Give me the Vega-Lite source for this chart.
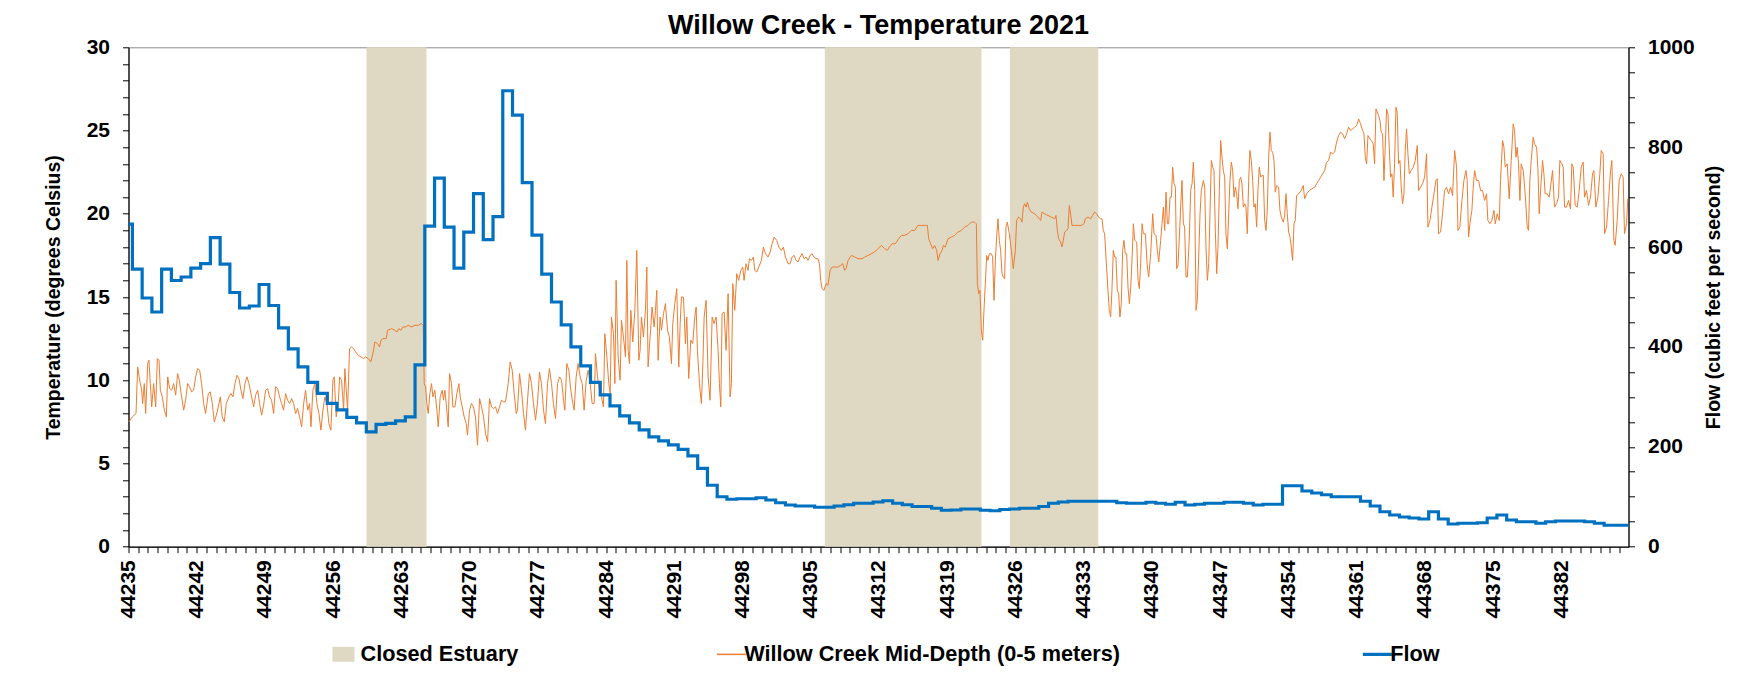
{
"$schema": "https://vega.github.io/schema/vega-lite/v6.json",
"width": 1500,
"height": 499.4,
"autosize": {"type": "none"},
"padding": {"left": 128.5, "top": 47.3, "right": 135.5, "bottom": 130.3},
"background": "white",
"title": {"text": "Willow Creek - Temperature 2021", "font": "Liberation Sans", "fontSize": 27, "fontWeight": "bold", "color": "#000000", "anchor": "middle", "frame": "group", "baseline": "alphabetic", "offset": 2, "dy": 27},
"datasets": {
"bands": [{"start": 44259.42, "end": 44265.58}, {"start": 44306.44, "end": 44322.52}, {"start": 44325.43, "end": 44334.5}],
"flow": [
{"day":44235,"flow":646},{"day":44235.4,"flow":556},{"day":44236.4,"flow":498},{"day":44237.4,"flow":470},{"day":44238.4,"flow":556},{"day":44239.4,"flow":533},{"day":44240.4,"flow":540},{"day":44241.4,"flow":558},{"day":44242.4,"flow":567},{"day":44243.4,"flow":619},{"day":44244.4,"flow":566},{"day":44245.4,"flow":509},{"day":44246.4,"flow":478},{"day":44247.4,"flow":482},{"day":44248.4,"flow":525},{"day":44249.4,"flow":483},{"day":44250.4,"flow":438},{"day":44251.4,"flow":396},{"day":44252.4,"flow":360},{"day":44253.4,"flow":329},{"day":44254.4,"flow":307},{"day":44255.4,"flow":287},{"day":44256.4,"flow":274},{"day":44257.4,"flow":259},{"day":44258.4,"flow":248},{"day":44259.4,"flow":230},{"day":44260.4,"flow":245},{"day":44261.4,"flow":247},{"day":44262.4,"flow":252},{"day":44263.4,"flow":260},{"day":44264.4,"flow":364},{"day":44265.4,"flow":642},{"day":44266.4,"flow":738},{"day":44267.4,"flow":640},{"day":44268.4,"flow":558},{"day":44269.4,"flow":630},{"day":44270.4,"flow":707},{"day":44271.4,"flow":615},{"day":44272.4,"flow":661},{"day":44273.4,"flow":913},{"day":44274.4,"flow":864},{"day":44275.4,"flow":729},{"day":44276.4,"flow":624},{"day":44277.4,"flow":546},{"day":44278.4,"flow":490},{"day":44279.4,"flow":444},{"day":44280.4,"flow":400},{"day":44281.4,"flow":362},{"day":44282.4,"flow":329},{"day":44283.4,"flow":304},{"day":44284.4,"flow":282},{"day":44285.4,"flow":262},{"day":44286.4,"flow":248},{"day":44287.4,"flow":234},{"day":44288.4,"flow":220},{"day":44289.4,"flow":212},{"day":44290.4,"flow":204},{"day":44291.4,"flow":195},{"day":44292.4,"flow":182},{"day":44293.4,"flow":157},{"day":44294.4,"flow":123},{"day":44295.4,"flow":100},{"day":44296.4,"flow":95},{"day":44297.4,"flow":96},{"day":44298.4,"flow":96},{"day":44299.4,"flow":98},{"day":44300.4,"flow":93.5},{"day":44301.4,"flow":88},{"day":44302.4,"flow":83.5},{"day":44303.4,"flow":81.5},{"day":44304.4,"flow":81.5},{"day":44305.4,"flow":79},{"day":44306.4,"flow":79},{"day":44307.4,"flow":81.5},{"day":44308.4,"flow":84},{"day":44309.4,"flow":87},{"day":44310.4,"flow":87},{"day":44311.4,"flow":89.5},{"day":44312.4,"flow":92},{"day":44313.4,"flow":87},{"day":44314.4,"flow":84},{"day":44315.4,"flow":80.5},{"day":44316.4,"flow":80.5},{"day":44317.4,"flow":77},{"day":44318.4,"flow":73},{"day":44319.4,"flow":73.5},{"day":44320.4,"flow":75.5},{"day":44321.4,"flow":75.5},{"day":44322.4,"flow":73},{"day":44323.4,"flow":72},{"day":44324.4,"flow":74.5},{"day":44325.4,"flow":75.5},{"day":44326.4,"flow":77},{"day":44327.4,"flow":77},{"day":44328.4,"flow":80.5},{"day":44329.4,"flow":87},{"day":44330.4,"flow":89.5},{"day":44331.4,"flow":91},{"day":44332.4,"flow":91},{"day":44333.4,"flow":91},{"day":44334.4,"flow":91},{"day":44335.4,"flow":91},{"day":44336.4,"flow":88},{"day":44337.4,"flow":87},{"day":44338.4,"flow":87},{"day":44339.4,"flow":89},{"day":44340.4,"flow":87},{"day":44341.4,"flow":85},{"day":44342.4,"flow":89},{"day":44343.4,"flow":83.5},{"day":44344.4,"flow":85},{"day":44345.4,"flow":87},{"day":44346.4,"flow":87},{"day":44347.4,"flow":89},{"day":44348.4,"flow":89},{"day":44349.4,"flow":87},{"day":44350.4,"flow":83.5},{"day":44351.4,"flow":85},{"day":44352.4,"flow":85},{"day":44353.4,"flow":122},{"day":44354.4,"flow":122},{"day":44355.4,"flow":111.5},{"day":44356.4,"flow":107.5},{"day":44357.4,"flow":104},{"day":44358.4,"flow":100},{"day":44359.4,"flow":100},{"day":44360.4,"flow":100},{"day":44361.4,"flow":91},{"day":44362.4,"flow":81.5},{"day":44363.4,"flow":70},{"day":44364.4,"flow":63.5},{"day":44365.4,"flow":59.5},{"day":44366.4,"flow":57.5},{"day":44367.4,"flow":55.5},{"day":44368.4,"flow":70},{"day":44369.4,"flow":55.5},{"day":44370.4,"flow":45.5},{"day":44371.4,"flow":47},{"day":44372.4,"flow":47},{"day":44373.4,"flow":48},{"day":44374.4,"flow":57.5},{"day":44375.4,"flow":63.5},{"day":44376.4,"flow":53.5},{"day":44377.4,"flow":50},{"day":44378.4,"flow":50},{"day":44379.4,"flow":47},{"day":44380.4,"flow":50},{"day":44381.4,"flow":51.5},{"day":44382.4,"flow":51.5},{"day":44383.4,"flow":51.5},{"day":44384.4,"flow":50},{"day":44385.4,"flow":47},{"day":44386.4,"flow":43},{"day":44388.9,"flow":43}
],
"temp": [
{"day":44235.05,"temp":7.5},{"day":44235.39,"temp":7.8},{"day":44235.77,"temp":8.0},{"day":44235.94,"temp":10.8},{"day":44236.15,"temp":10.0},{"day":44236.35,"temp":9.4},{"day":44236.45,"temp":8.6},{"day":44236.62,"temp":9.8},{"day":44236.76,"temp":8.0},{"day":44236.97,"temp":11.0},{"day":44237.10,"temp":11.2},{"day":44237.24,"temp":9.8},{"day":44237.38,"temp":8.4},{"day":44237.58,"temp":9.8},{"day":44237.79,"temp":8.4},{"day":44237.96,"temp":11.3},{"day":44238.13,"temp":11.2},{"day":44238.27,"temp":9.4},{"day":44238.47,"temp":9.0},{"day":44238.68,"temp":8.2},{"day":44238.88,"temp":7.8},{"day":44239.02,"temp":10.2},{"day":44239.22,"temp":9.5},{"day":44239.43,"temp":9.4},{"day":44239.63,"temp":9.8},{"day":44239.84,"temp":9.1},{"day":44240.04,"temp":10.4},{"day":44240.21,"temp":10.0},{"day":44240.45,"temp":9.0},{"day":44240.66,"temp":8.2},{"day":44240.86,"temp":8.8},{"day":44241.07,"temp":9.8},{"day":44241.27,"temp":9.6},{"day":44241.48,"temp":9.3},{"day":44241.68,"temp":9.4},{"day":44241.89,"temp":10.2},{"day":44242.09,"temp":10.7},{"day":44242.30,"temp":10.6},{"day":44242.50,"temp":9.8},{"day":44242.71,"temp":8.6},{"day":44242.91,"temp":8.0},{"day":44243.19,"temp":9.2},{"day":44243.39,"temp":9.3},{"day":44243.60,"temp":8.6},{"day":44243.80,"temp":7.5},{"day":44244.01,"temp":7.9},{"day":44244.21,"temp":8.4},{"day":44244.42,"temp":9.0},{"day":44244.62,"temp":7.8},{"day":44244.83,"temp":7.5},{"day":44245.03,"temp":8.6},{"day":44245.31,"temp":9.0},{"day":44245.51,"temp":9.2},{"day":44245.72,"temp":9.0},{"day":44245.92,"temp":9.8},{"day":44246.13,"temp":10.3},{"day":44246.33,"temp":10.1},{"day":44246.54,"temp":9.4},{"day":44246.74,"temp":8.9},{"day":44246.95,"temp":9.8},{"day":44247.15,"temp":10.2},{"day":44247.36,"temp":9.8},{"day":44247.63,"temp":9.0},{"day":44247.84,"temp":8.4},{"day":44248.04,"temp":9.1},{"day":44248.25,"temp":9.4},{"day":44248.45,"temp":8.6},{"day":44248.66,"temp":7.9},{"day":44248.86,"temp":8.5},{"day":44249.07,"temp":9.4},{"day":44249.27,"temp":9.5},{"day":44249.48,"temp":9.0},{"day":44249.68,"temp":8.8},{"day":44249.89,"temp":8.0},{"day":44250.09,"temp":9.6},{"day":44250.30,"temp":9.5},{"day":44250.50,"temp":9.0},{"day":44250.71,"temp":8.6},{"day":44250.91,"temp":8.2},{"day":44251.12,"temp":9.2},{"day":44251.32,"temp":8.8},{"day":44251.53,"temp":8.6},{"day":44251.74,"temp":8.9},{"day":44251.94,"temp":8.6},{"day":44252.15,"temp":8.0},{"day":44252.35,"temp":8.3},{"day":44252.56,"temp":7.8},{"day":44252.76,"temp":7.2},{"day":44252.97,"temp":8.6},{"day":44253.17,"temp":9.4},{"day":44253.38,"temp":8.2},{"day":44253.58,"temp":8.6},{"day":44253.72,"temp":7.2},{"day":44253.92,"temp":9.4},{"day":44254.13,"temp":9.8},{"day":44254.33,"temp":8.6},{"day":44254.54,"temp":8.0},{"day":44254.74,"temp":7.0},{"day":44254.95,"temp":8.2},{"day":44255.15,"temp":9.0},{"day":44255.36,"temp":8.6},{"day":44255.56,"temp":7.4},{"day":44255.77,"temp":7.0},{"day":44255.97,"temp":10.0},{"day":44256.11,"temp":10.2},{"day":44256.31,"temp":7.8},{"day":44256.52,"temp":8.6},{"day":44256.66,"temp":10.2},{"day":44256.86,"temp":10.0},{"day":44257.07,"temp":8.2},{"day":44257.20,"temp":10.7},{"day":44257.34,"temp":9.4},{"day":44257.48,"temp":8.2},{"day":44257.68,"temp":11.9},{"day":44257.89,"temp":12.0},{"day":44258.09,"temp":11.9},{"day":44258.30,"temp":11.7},{"day":44258.57,"temp":11.5},{"day":44258.85,"temp":11.4},{"day":44259.12,"temp":11.3},{"day":44259.32,"temp":11.4},{"day":44259.60,"temp":11.3},{"day":44259.87,"temp":11.1},{"day":44260.08,"temp":11.6},
{"day":44260.28,"temp":12.3},{"day":44260.55,"temp":12.2},{"day":44260.76,"temp":12.0},{"day":44260.90,"temp":12.4},{"day":44261.10,"temp":12.5},{"day":44261.44,"temp":12.5},{"day":44261.58,"temp":13.0},{"day":44261.99,"temp":13.1},{"day":44262.33,"temp":13.0},{"day":44262.54,"temp":12.9},{"day":44262.74,"temp":13.1},{"day":44262.95,"temp":13.0},{"day":44263.15,"temp":13.2},{"day":44263.43,"temp":13.2},{"day":44263.70,"temp":13.3},{"day":44264.04,"temp":13.2},{"day":44264.38,"temp":13.3},{"day":44264.72,"temp":13.3},{"day":44265.07,"temp":13.4},{"day":44265.24,"temp":13.3},{"day":44265.34,"temp":9.8},{"day":44265.48,"temp":9.6},{"day":44265.61,"temp":8.6},{"day":44265.75,"temp":8.0},{"day":44265.92,"temp":9.2},{"day":44266.09,"temp":9.8},{"day":44266.23,"temp":9.0},{"day":44266.43,"temp":9.4},{"day":44266.64,"temp":8.2},{"day":44266.78,"temp":7.2},{"day":44266.98,"temp":9.0},{"day":44267.19,"temp":9.4},{"day":44267.32,"temp":8.8},{"day":44267.46,"temp":9.4},{"day":44267.60,"temp":8.6},{"day":44267.80,"temp":7.2},{"day":44267.94,"temp":10.4},{"day":44268.14,"temp":9.8},{"day":44268.28,"temp":8.4},{"day":44268.49,"temp":8.4},{"day":44268.69,"temp":9.2},{"day":44268.90,"temp":9.8},{"day":44269.03,"temp":9.0},{"day":44269.24,"temp":8.4},{"day":44269.44,"temp":7.8},{"day":44269.65,"temp":7.4},{"day":44269.78,"temp":6.7},{"day":44269.99,"temp":8.2},{"day":44270.19,"temp":8.6},{"day":44270.40,"temp":8.4},{"day":44270.60,"temp":7.8},{"day":44270.81,"temp":6.1},{"day":44271.02,"temp":8.9},{"day":44271.22,"temp":8.4},{"day":44271.43,"temp":7.8},{"day":44271.63,"temp":6.8},{"day":44271.84,"temp":6.3},{"day":44272.04,"temp":8.9},{"day":44272.25,"temp":8.4},{"day":44272.45,"temp":8.3},{"day":44272.66,"temp":8.4},{"day":44272.86,"temp":8.0},{"day":44273.07,"temp":8.4},{"day":44273.27,"temp":8.8},{"day":44273.48,"temp":8.7},{"day":44273.68,"temp":8.7},{"day":44273.96,"temp":9.8},{"day":44274.16,"temp":11.1},{"day":44274.37,"temp":10.6},{"day":44274.57,"temp":9.2},{"day":44274.78,"temp":8.0},{"day":44274.91,"temp":8.2},{"day":44275.12,"temp":10.4},{"day":44275.32,"temp":9.4},{"day":44275.53,"temp":8.0},{"day":44275.73,"temp":7.0},{"day":44275.94,"temp":8.8},{"day":44276.14,"temp":10.4},{"day":44276.35,"temp":9.8},{"day":44276.55,"temp":8.6},{"day":44276.76,"temp":7.6},{"day":44276.96,"temp":8.6},{"day":44277.17,"temp":10.5},{"day":44277.37,"temp":9.8},{"day":44277.58,"temp":8.2},{"day":44277.78,"temp":7.4},{"day":44277.99,"temp":9.8},{"day":44278.19,"temp":10.7},{"day":44278.40,"temp":9.8},{"day":44278.60,"temp":8.6},{"day":44278.81,"temp":7.7},{"day":44279.02,"temp":9.8},{"day":44279.22,"temp":10.2},{"day":44279.43,"temp":10.0},{"day":44279.63,"temp":8.8},{"day":44279.77,"temp":8.2},{"day":44279.97,"temp":11.0},{"day":44280.18,"temp":10.6},{"day":44280.38,"temp":9.4},{"day":44280.59,"temp":8.6},{"day":44280.72,"temp":8.2},{"day":44280.93,"temp":10.2},{"day":44281.13,"temp":11.0},{"day":44281.34,"temp":10.2},{"day":44281.55,"temp":9.8},{"day":44281.75,"temp":8.2},{"day":44281.96,"temp":10.0},{"day":44282.16,"temp":10.6},{"day":44282.37,"temp":9.8},{"day":44282.57,"temp":8.6},{"day":44282.78,"temp":8.6},{"day":44282.91,"temp":11.6},{"day":44283.12,"temp":10.2},{"day":44283.32,"temp":9.4},{"day":44283.53,"temp":9.0},{"day":44283.73,"temp":8.4},{"day":44283.87,"temp":12.8},{"day":44284.08,"temp":11.4},{"day":44284.28,"temp":9.8},{"day":44284.42,"temp":9.2},{"day":44284.55,"temp":13.8},{"day":44284.76,"temp":12.8},{"day":44284.90,"temp":9.8},{"day":44285.03,"temp":16.0},{"day":44285.24,"temp":11.4},{"day":44285.44,"temp":10.0},{"day":44285.58,"temp":13.6},{"day":44285.78,"temp":12.6},{"day":44285.99,"temp":11.4},{"day":44286.13,"temp":17.2},
{"day":44286.26,"temp":11.8},{"day":44286.40,"temp":11.0},{"day":44286.54,"temp":14.2},{"day":44286.74,"temp":12.3},{"day":44286.95,"temp":14.2},{"day":44287.15,"temp":17.8},{"day":44287.36,"temp":11.2},{"day":44287.49,"temp":11.8},{"day":44287.63,"temp":13.8},{"day":44287.83,"temp":12.6},{"day":44288.04,"temp":14.2},{"day":44288.18,"temp":16.8},{"day":44288.31,"temp":10.8},{"day":44288.52,"temp":12.6},{"day":44288.72,"temp":14.4},{"day":44288.93,"temp":13.2},{"day":44289.07,"temp":14.2},{"day":44289.20,"temp":15.4},{"day":44289.34,"temp":11.2},{"day":44289.54,"temp":13.8},{"day":44289.68,"temp":13.0},{"day":44289.89,"temp":14.0},{"day":44290.09,"temp":14.6},{"day":44290.30,"temp":13.0},{"day":44290.50,"temp":12.6},{"day":44290.71,"temp":11.0},{"day":44290.84,"temp":13.4},{"day":44291.05,"temp":14.6},{"day":44291.25,"temp":15.5},{"day":44291.46,"temp":10.8},{"day":44291.60,"temp":13.4},{"day":44291.73,"temp":15.0},{"day":44291.94,"temp":15.0},{"day":44292.14,"temp":12.2},{"day":44292.28,"temp":13.8},{"day":44292.48,"temp":10.1},{"day":44292.69,"temp":12.4},{"day":44292.89,"temp":12.2},{"day":44293.10,"temp":13.8},{"day":44293.24,"temp":14.4},{"day":44293.37,"temp":11.8},{"day":44293.58,"temp":9.8},{"day":44293.78,"temp":8.6},{"day":44293.92,"temp":10.8},{"day":44294.06,"temp":13.8},{"day":44294.26,"temp":14.8},{"day":44294.47,"temp":10.2},{"day":44294.67,"temp":8.8},{"day":44294.88,"temp":13.8},{"day":44295.08,"temp":13.4},{"day":44295.29,"temp":13.8},{"day":44295.49,"temp":11.8},{"day":44295.63,"temp":9.8},{"day":44295.77,"temp":8.4},{"day":44295.90,"temp":14.0},{"day":44296.11,"temp":14.1},{"day":44296.31,"temp":11.8},{"day":44296.52,"temp":15.2},{"day":44296.72,"temp":9.0},{"day":44296.86,"temp":9.8},{"day":44297.00,"temp":15.8},{"day":44297.20,"temp":14.2},{"day":44297.41,"temp":16.4},{"day":44297.61,"temp":16.0},{"day":44297.82,"temp":16.6},{"day":44298.02,"temp":16.8},{"day":44298.16,"temp":16.0},{"day":44298.36,"temp":17.0},{"day":44298.57,"temp":16.6},{"day":44298.71,"temp":17.3},{"day":44298.91,"temp":17.2},{"day":44299.12,"temp":17.4},{"day":44299.25,"temp":16.6},{"day":44299.46,"temp":16.5},{"day":44299.66,"temp":16.8},{"day":44299.94,"temp":17.2},{"day":44300.14,"temp":18.0},{"day":44300.35,"temp":17.6},{"day":44300.62,"temp":17.4},{"day":44300.83,"temp":17.7},{"day":44301.03,"temp":18.2},{"day":44301.24,"temp":18.6},{"day":44301.51,"temp":18.4},{"day":44301.72,"temp":18.0},{"day":44301.99,"temp":17.8},{"day":44302.19,"temp":18.0},{"day":44302.40,"temp":17.4},{"day":44302.67,"temp":17.0},{"day":44302.88,"temp":17.0},{"day":44303.08,"temp":17.4},{"day":44303.29,"temp":17.5},{"day":44303.49,"temp":17.2},{"day":44303.70,"temp":17.1},{"day":44303.90,"temp":17.4},{"day":44304.11,"temp":17.6},{"day":44304.31,"temp":17.3},{"day":44304.52,"temp":17.4},{"day":44304.72,"temp":17.2},{"day":44304.93,"temp":17.5},{"day":44305.13,"temp":17.6},{"day":44305.34,"temp":17.4},{"day":44305.54,"temp":17.3},{"day":44305.75,"temp":17.3},{"day":44305.89,"temp":17.0},{"day":44306.02,"temp":16.0},{"day":44306.16,"temp":15.5},{"day":44306.36,"temp":15.4},{"day":44306.57,"temp":15.8},{"day":44306.77,"temp":15.7},{"day":44306.98,"temp":16.6},{"day":44307.19,"temp":16.8},{"day":44307.46,"temp":16.8},{"day":44307.80,"temp":16.8},{"day":44308.07,"temp":16.9},{"day":44308.28,"temp":17.0},{"day":44308.48,"temp":16.6},{"day":44308.62,"temp":16.7},{"day":44308.83,"temp":17.2},{"day":44309.17,"temp":17.5},{"day":44309.51,"temp":17.4},{"day":44309.85,"temp":17.3},{"day":44310.26,"temp":17.3},{"day":44310.54,"temp":17.4},{"day":44310.88,"temp":17.5},{"day":44311.22,"temp":17.6},
{"day":44311.56,"temp":17.7},{"day":44311.90,"temp":17.9},{"day":44312.24,"temp":18.1},{"day":44312.59,"temp":17.9},{"day":44312.86,"temp":17.8},{"day":44313.06,"temp":18.0},{"day":44313.34,"temp":18.2},{"day":44313.68,"temp":18.2},{"day":44314.02,"temp":18.5},{"day":44314.30,"temp":18.7},{"day":44314.64,"temp":18.7},{"day":44314.98,"temp":18.8},{"day":44315.32,"temp":19.0},{"day":44315.66,"temp":19.0},{"day":44316.00,"temp":19.3},{"day":44316.35,"temp":19.3},{"day":44316.69,"temp":19.3},{"day":44316.96,"temp":19.3},{"day":44317.10,"temp":18.5},{"day":44317.30,"temp":18.2},{"day":44317.51,"temp":17.9},{"day":44317.71,"temp":18.1},{"day":44317.92,"temp":17.8},{"day":44318.06,"temp":17.2},{"day":44318.26,"temp":17.6},{"day":44318.47,"temp":17.8},{"day":44318.60,"temp":18.1},{"day":44318.81,"temp":18.0},{"day":44319.08,"temp":18.5},{"day":44319.42,"temp":18.6},{"day":44319.77,"temp":18.7},{"day":44320.11,"temp":18.9},{"day":44320.45,"temp":19.0},{"day":44320.79,"temp":19.2},{"day":44321.13,"temp":19.3},{"day":44321.47,"temp":19.5},{"day":44321.82,"temp":19.5},{"day":44321.99,"temp":19.4},{"day":44322.09,"temp":15.8},{"day":44322.23,"temp":15.2},{"day":44322.36,"temp":15.4},{"day":44322.50,"temp":13.0},{"day":44322.64,"temp":12.4},{"day":44322.77,"temp":14.2},{"day":44322.91,"temp":15.8},{"day":44323.05,"temp":17.5},{"day":44323.18,"temp":17.2},{"day":44323.32,"temp":17.6},{"day":44323.53,"temp":17.6},{"day":44323.66,"temp":17.4},{"day":44323.80,"temp":14.8},{"day":44323.94,"temp":17.2},{"day":44324.07,"temp":18.6},{"day":44324.21,"temp":19.7},{"day":44324.35,"temp":18.4},{"day":44324.48,"temp":17.8},{"day":44324.62,"temp":16.4},{"day":44324.76,"temp":16.2},{"day":44324.89,"temp":16.1},{"day":44325.03,"temp":19.2},{"day":44325.17,"temp":19.5},{"day":44325.37,"temp":18.8},{"day":44325.58,"temp":17.8},{"day":44325.78,"temp":16.7},{"day":44325.99,"temp":17.8},{"day":44326.12,"temp":19.6},{"day":44326.33,"temp":19.8},{"day":44326.53,"temp":19.7},{"day":44326.67,"temp":19.5},{"day":44326.81,"temp":20.4},{"day":44326.94,"temp":20.6},{"day":44327.08,"temp":20.4},{"day":44327.22,"temp":20.7},{"day":44327.42,"temp":20.3},{"day":44327.63,"temp":20.1},{"day":44327.97,"temp":20.0},{"day":44328.31,"temp":19.8},{"day":44328.59,"temp":19.6},{"day":44328.72,"temp":20.1},{"day":44329.00,"temp":20.0},{"day":44329.34,"temp":19.9},{"day":44329.68,"temp":19.8},{"day":44330.02,"temp":19.7},{"day":44330.16,"temp":19.9},{"day":44330.30,"temp":19.0},{"day":44330.43,"temp":18.5},{"day":44330.64,"temp":18.3},{"day":44330.77,"temp":18.0},{"day":44330.91,"temp":18.4},{"day":44331.05,"temp":18.9},{"day":44331.25,"temp":19.0},{"day":44331.39,"temp":19.1},{"day":44331.53,"temp":20.5},{"day":44331.66,"temp":20.0},{"day":44331.80,"temp":19.3},{"day":44332.07,"temp":19.3},{"day":44332.41,"temp":19.3},{"day":44332.76,"temp":19.3},{"day":44333.03,"temp":19.4},{"day":44333.17,"temp":19.7},{"day":44333.44,"temp":19.8},{"day":44333.71,"temp":19.7},{"day":44333.92,"temp":19.9},{"day":44334.12,"temp":20.1},{"day":44334.33,"temp":20.0},{"day":44334.53,"temp":19.8},{"day":44334.74,"temp":19.7},{"day":44334.88,"temp":19.7},{"day":44335.01,"temp":19.0},{"day":44335.15,"temp":18.8},{"day":44335.29,"temp":17.4},{"day":44335.49,"temp":15.4},{"day":44335.63,"temp":14.2},{"day":44335.77,"temp":13.8},{"day":44335.90,"temp":15.4},{"day":44336.04,"temp":17.8},{"day":44336.18,"temp":17.4},{"day":44336.31,"temp":17.4},{"day":44336.45,"temp":15.4},{"day":44336.59,"temp":15.2},{"day":44336.72,"temp":13.8},{"day":44336.86,"temp":14.6},{"day":44337.00,"temp":17.8},{"day":44337.13,"temp":18.4},{"day":44337.27,"temp":17.6},{"day":44337.41,"temp":17.6},
{"day":44337.55,"temp":15.6},{"day":44337.69,"temp":14.6},{"day":44337.83,"temp":15.6},{"day":44337.96,"temp":17.2},{"day":44338.10,"temp":19.4},{"day":44338.24,"temp":18.4},{"day":44338.44,"temp":18.3},{"day":44338.58,"temp":16.0},{"day":44338.71,"temp":15.5},{"day":44338.85,"temp":17.0},{"day":44338.99,"temp":19.4},{"day":44339.12,"temp":18.8},{"day":44339.33,"temp":18.8},{"day":44339.53,"temp":16.8},{"day":44339.67,"temp":16.2},{"day":44339.88,"temp":17.6},{"day":44340.08,"temp":20.0},{"day":44340.22,"temp":18.8},{"day":44340.42,"temp":18.7},{"day":44340.56,"temp":17.8},{"day":44340.70,"temp":17.1},{"day":44340.90,"temp":18.4},{"day":44341.04,"temp":19.4},{"day":44341.18,"temp":20.4},{"day":44341.31,"temp":19.0},{"day":44341.45,"temp":21.3},{"day":44341.59,"temp":19.4},{"day":44341.72,"temp":19.4},{"day":44341.86,"temp":21.0},{"day":44342.00,"temp":21.0},{"day":44342.13,"temp":22.8},{"day":44342.27,"temp":21.8},{"day":44342.41,"temp":21.6},{"day":44342.54,"temp":16.7},{"day":44342.68,"temp":16.9},{"day":44342.82,"temp":18.6},{"day":44342.95,"temp":20.4},{"day":44343.09,"temp":22.0},{"day":44343.23,"temp":19.4},{"day":44343.36,"temp":19.2},{"day":44343.50,"temp":16.2},{"day":44343.64,"temp":16.2},{"day":44343.84,"temp":18.6},{"day":44343.98,"temp":21.4},{"day":44344.12,"temp":21.8},{"day":44344.25,"temp":23.1},{"day":44344.39,"temp":21.4},{"day":44344.53,"temp":14.2},{"day":44344.66,"temp":14.8},{"day":44344.80,"temp":17.4},{"day":44344.94,"temp":20.0},{"day":44345.07,"temp":21.4},{"day":44345.28,"temp":22.0},{"day":44345.42,"temp":21.6},{"day":44345.55,"temp":18.0},{"day":44345.69,"temp":16.0},{"day":44345.83,"temp":17.0},{"day":44345.96,"temp":20.0},{"day":44346.10,"temp":23.2},{"day":44346.24,"temp":22.8},{"day":44346.37,"temp":22.6},{"day":44346.51,"temp":19.0},{"day":44346.65,"temp":16.4},{"day":44346.78,"temp":18.0},{"day":44346.92,"temp":21.4},{"day":44347.06,"temp":24.4},{"day":44347.19,"temp":23.4},{"day":44347.33,"temp":22.6},{"day":44347.47,"temp":22.2},{"day":44347.60,"temp":18.8},{"day":44347.74,"temp":17.9},{"day":44347.88,"temp":20.0},{"day":44348.01,"temp":22.0},{"day":44348.15,"temp":23.1},{"day":44348.29,"temp":22.6},{"day":44348.42,"temp":21.0},{"day":44348.56,"temp":21.6},{"day":44348.70,"temp":21.2},{"day":44348.83,"temp":20.3},{"day":44348.97,"temp":22.0},{"day":44349.11,"temp":22.2},{"day":44349.24,"temp":21.8},{"day":44349.38,"temp":20.4},{"day":44349.52,"temp":20.6},{"day":44349.65,"temp":20.4},{"day":44349.79,"temp":18.8},{"day":44349.93,"temp":22.0},{"day":44350.06,"temp":23.8},{"day":44350.20,"temp":23.2},{"day":44350.34,"temp":22.0},{"day":44350.47,"temp":20.4},{"day":44350.61,"temp":20.6},{"day":44350.75,"temp":19.2},{"day":44350.88,"temp":21.4},{"day":44351.02,"temp":22.8},{"day":44351.16,"temp":22.2},{"day":44351.29,"temp":22.3},{"day":44351.43,"temp":22.3},{"day":44351.57,"temp":19.6},{"day":44351.71,"temp":19.0},{"day":44351.84,"temp":20.2},{"day":44351.98,"temp":23.4},{"day":44352.12,"temp":24.9},{"day":44352.25,"temp":23.8},{"day":44352.39,"temp":23.7},{"day":44352.53,"temp":23.2},{"day":44352.66,"temp":21.3},{"day":44352.80,"temp":21.7},{"day":44353.00,"temp":21.6},{"day":44353.14,"temp":20.2},{"day":44353.28,"temp":19.8},{"day":44353.48,"temp":19.5},{"day":44353.62,"temp":19.9},{"day":44353.76,"temp":21.2},{"day":44353.89,"temp":20.0},{"day":44354.03,"temp":18.9},{"day":44354.17,"temp":18.6},{"day":44354.30,"temp":18.0},{"day":44354.44,"temp":17.2},{"day":44354.58,"temp":19.4},{"day":44354.71,"temp":19.6},{"day":44354.85,"temp":21.1},{"day":44355.06,"temp":21.2},{"day":44355.33,"temp":21.4},{"day":44355.53,"temp":21.7},{"day":44355.67,"temp":20.9},{"day":44355.88,"temp":21.2},{"day":44356.15,"temp":21.4},{"day":44356.42,"temp":21.5},{"day":44356.70,"temp":21.6},{"day":44356.90,"temp":21.8},{"day":44357.11,"temp":22.0},{"day":44357.31,"temp":22.2},{"day":44357.52,"temp":22.4},{"day":44357.72,"temp":22.6},{"day":44357.93,"temp":23.1},{"day":44358.13,"temp":23.2},{"day":44358.34,"temp":23.7},{"day":44358.54,"temp":23.6},{"day":44358.75,"temp":23.7},{"day":44358.95,"temp":24.3},{"day":44359.16,"temp":24.7},{"day":44359.36,"temp":24.9},{"day":44359.57,"temp":24.8},{"day":44359.77,"temp":24.5},{"day":44359.98,"temp":24.8},{"day":44360.18,"temp":25.2},{"day":44360.39,"temp":25.0},{"day":44360.59,"temp":25.1},{"day":44360.80,"temp":25.2},{"day":44361.00,"temp":25.3},{"day":44361.21,"temp":25.7},{"day":44361.41,"temp":25.4},{"day":44361.62,"temp":25.0},{"day":44361.76,"temp":24.8},{"day":44361.89,"temp":23.4},{"day":44362.03,"temp":23.0},{"day":44362.17,"temp":24.7},{"day":44362.37,"temp":24.5},{"day":44362.51,"temp":24.4},{"day":44362.71,"temp":24.2},{"day":44362.85,"temp":23.0},{"day":44362.99,"temp":26.3},
{"day":44363.26,"temp":25.9},{"day":44363.40,"temp":25.6},{"day":44363.53,"temp":24.9},{"day":44363.67,"temp":24.8},{"day":44363.81,"temp":22.0},{"day":44363.94,"temp":24.0},{"day":44364.08,"temp":26.3},{"day":44364.22,"temp":26.0},{"day":44364.35,"temp":24.0},{"day":44364.49,"temp":22.2},{"day":44364.63,"temp":22.4},{"day":44364.76,"temp":21.0},{"day":44364.90,"temp":23.0},{"day":44365.04,"temp":26.4},{"day":44365.17,"temp":26.1},{"day":44365.31,"temp":23.0},{"day":44365.45,"temp":23.2},{"day":44365.58,"temp":21.6},{"day":44365.72,"temp":20.6},{"day":44365.86,"temp":21.2},{"day":44365.99,"temp":23.8},{"day":44366.13,"temp":25.1},{"day":44366.27,"temp":23.6},{"day":44366.41,"temp":22.4},{"day":44366.61,"temp":22.6},{"day":44366.82,"temp":22.8},{"day":44367.02,"temp":23.2},{"day":44367.23,"temp":24.1},{"day":44367.36,"temp":21.4},{"day":44367.57,"temp":21.6},{"day":44367.77,"temp":21.8},{"day":44367.98,"temp":22.2},{"day":44368.18,"temp":23.6},{"day":44368.32,"temp":19.2},{"day":44368.53,"temp":19.6},{"day":44368.73,"temp":20.4},{"day":44368.94,"temp":21.2},{"day":44369.14,"temp":22.0},{"day":44369.28,"temp":22.1},{"day":44369.41,"temp":18.8},{"day":44369.62,"temp":18.9},{"day":44369.82,"temp":20.0},{"day":44370.03,"temp":21.4},{"day":44370.23,"temp":21.6},{"day":44370.44,"temp":21.2},{"day":44370.65,"temp":21.6},{"day":44370.85,"temp":21.1},{"day":44371.06,"temp":23.8},{"day":44371.26,"temp":22.8},{"day":44371.40,"temp":19.0},{"day":44371.60,"temp":19.2},{"day":44371.81,"temp":20.8},{"day":44372.01,"temp":22.0},{"day":44372.22,"temp":22.6},{"day":44372.35,"temp":22.0},{"day":44372.49,"temp":18.6},{"day":44372.63,"temp":19.4},{"day":44372.83,"temp":20.2},{"day":44372.97,"temp":21.6},{"day":44373.11,"temp":22.6},{"day":44373.31,"temp":22.0},{"day":44373.52,"temp":22.0},{"day":44373.72,"temp":21.4},{"day":44373.93,"temp":21.4},{"day":44374.13,"temp":20.8},{"day":44374.34,"temp":21.2},{"day":44374.47,"temp":19.6},{"day":44374.68,"temp":19.4},{"day":44374.88,"temp":19.6},{"day":44375.09,"temp":20.2},{"day":44375.23,"temp":19.4},{"day":44375.43,"temp":20.0},{"day":44375.64,"temp":19.6},{"day":44375.77,"temp":22.0},{"day":44375.98,"temp":24.4},{"day":44376.12,"temp":24.0},{"day":44376.25,"temp":22.8},{"day":44376.46,"temp":23.0},{"day":44376.66,"temp":20.9},{"day":44376.87,"temp":23.2},{"day":44377.07,"temp":25.4},{"day":44377.21,"temp":25.0},{"day":44377.35,"temp":23.4},{"day":44377.48,"temp":24.0},{"day":44377.62,"temp":23.0},{"day":44377.76,"temp":20.8},{"day":44377.89,"temp":23.0},{"day":44378.10,"temp":22.6},{"day":44378.30,"temp":21.2},{"day":44378.51,"temp":19.2},{"day":44378.64,"temp":19.0},{"day":44378.78,"temp":22.0},{"day":44378.92,"temp":23.2},{"day":44379.12,"temp":24.6},{"day":44379.26,"temp":24.2},{"day":44379.47,"temp":24.0},{"day":44379.60,"temp":22.8},{"day":44379.74,"temp":20.0},{"day":44379.88,"temp":21.4},{"day":44380.08,"temp":23.2},{"day":44380.22,"temp":22.4},{"day":44380.35,"temp":21.2},{"day":44380.56,"temp":21.2},{"day":44380.76,"temp":21.0},{"day":44380.90,"temp":21.6},{"day":44381.11,"temp":22.6},{"day":44381.31,"temp":20.4},{"day":44381.52,"temp":20.6},{"day":44381.72,"temp":21.0},{"day":44381.86,"temp":23.2},{"day":44382.06,"temp":23.0},{"day":44382.20,"temp":22.8},{"day":44382.34,"temp":20.4},{"day":44382.54,"temp":20.4},{"day":44382.75,"temp":20.8},{"day":44382.95,"temp":20.3},{"day":44383.09,"temp":23.0},{"day":44383.23,"temp":22.8},{"day":44383.43,"temp":20.5},{"day":44383.64,"temp":20.4},{"day":44383.84,"temp":21.4},{"day":44384.05,"temp":22.8},{"day":44384.25,"temp":23.1},{"day":44384.39,"temp":21.0},{"day":44384.59,"temp":21.4},{"day":44384.80,"temp":20.5},{"day":44385.00,"temp":21.0},{"day":44385.21,"temp":22.4},{"day":44385.35,"temp":22.6},{"day":44385.55,"temp":20.4},{"day":44385.76,"temp":21.0},{"day":44385.96,"temp":22.4},{"day":44386.10,"temp":23.8},{"day":44386.30,"temp":23.6},{"day":44386.44,"temp":18.8},{"day":44386.65,"temp":19.2},{"day":44386.85,"temp":20.8},{"day":44387.06,"temp":22.6},{"day":44387.19,"temp":23.2},{"day":44387.40,"temp":18.4},{"day":44387.53,"temp":18.1},{"day":44387.74,"temp":19.6},{"day":44387.94,"temp":22.0},{"day":44388.15,"temp":22.4},{"day":44388.35,"temp":22.2},{"day":44388.49,"temp":18.8},{"day":44388.70,"temp":19.4},{"day":44388.83,"temp":20.9}
]
},
"layer": [
{"layer": [
{"data": {"name": "bands"},
"mark": {"type": "rect"},
"encoding": {
"x": {"field": "start", "type": "quantitative", "title": null, "scale": {"domain": [44235, 44388.9], "nice": false, "zero": false},
"axis": {"tickCount": 154, "format": "d", "labelExpr": "(datum.value - 44235) % 7 === 0 ? datum.label : ''", "labelAngle": 270, "labelOverlap": false, "labelBound": false, "labelFlush": false, "tickSize": 6, "labelPadding": 7}},
"x2": {"field": "end"},
"y": {"datum": 0, "type": "quantitative"},
"y2": {"datum": 30},
"fill": {"datum": "Closed Estuary", "type": "nominal", "scale": {"domain": ["Closed Estuary"], "range": ["#DFD8C3"]},
"legend": {"orient": "none", "legendX": 204, "legendY": 596, "title": null, "symbolType": "M-1,-0.68H1V0.68H-1Z", "symbolSize": 484, "labelOffset": 6, "padding": 0, "symbolStrokeWidth": 0}}
}},
{"data": {"name": "temp"},
"mark": {"type": "line", "strokeWidth": 1, "interpolate": "linear"},
"encoding": {
"x": {"field": "day", "type": "quantitative", "title": null},
"y": {"field": "temp", "type": "quantitative", "scale": {"domain": [0, 30], "nice": false, "zero": true},
"axis": {"title": "Temperature (degrees Celsius)", "tickCount": 30, "labelExpr": "datum.value % 5 === 0 ? datum.label : ''", "tickSize": 6, "labelPadding": 13, "titlePadding": 23, "labelOverlap": false, "labelBound": false, "labelFlush": false}},
"stroke": {"datum": "Willow Creek Mid-Depth (0-5 meters)", "type": "nominal",
"scale": {"domain": ["Willow Creek Mid-Depth (0-5 meters)", "Flow"], "range": ["#ED7D31", "#0070C0"]},
"legend": {"orient": "none", "legendX": 592, "legendY": 596, "title": null, "direction": "horizontal", "symbolType": "stroke", "symbolSize": 841, "labelOffset": 2, "columnPadding": 235, "padding": 0,
"encode": {"symbols": {"update": {"strokeWidth": {"signal": "datum.value === 'Flow' ? 3.2 : 1.5"}}}}}}
}}
]},
{"data": {"name": "flow"},
"mark": {"type": "line", "strokeWidth": 3.2, "interpolate": "step-after"},
"encoding": {
"x": {"field": "day", "type": "quantitative", "title": null},
"y": {"field": "flow", "type": "quantitative", "scale": {"domain": [0, 1000], "nice": false},
"axis": {"orient": "right", "title": "Flow (cubic feet per second)", "tickCount": 20, "format": "d", "labelExpr": "datum.value % 200 === 0 ? datum.label : ''", "tickSize": 6, "labelPadding": 13, "titlePadding": 10, "titleAngle": 270, "titleBaseline": "top", "labelOverlap": false, "labelBound": false, "labelFlush": false}},
"stroke": {"datum": "Flow", "type": "nominal"}
}}
],
"resolve": {"scale": {"y": "independent"}},
"config": {
"view": {"stroke": "#8C8C8C", "strokeWidth": 1},
"axis": {"grid": false, "domainColor": "#000000", "domainWidth": 1.2, "tickColor": "#000000", "tickWidth": 1, "labelFont": "Liberation Sans", "labelFontSize": 21, "labelFontWeight": "bold", "labelColor": "#000000", "titleFont": "Liberation Sans", "titleFontSize": 19.5, "titleFontWeight": "bold", "titleColor": "#000000"},
"legend": {"labelFont": "Liberation Sans", "labelFontSize": 21.7, "labelFontWeight": "bold", "labelColor": "#000000", "labelLimit": 0}
}
}
